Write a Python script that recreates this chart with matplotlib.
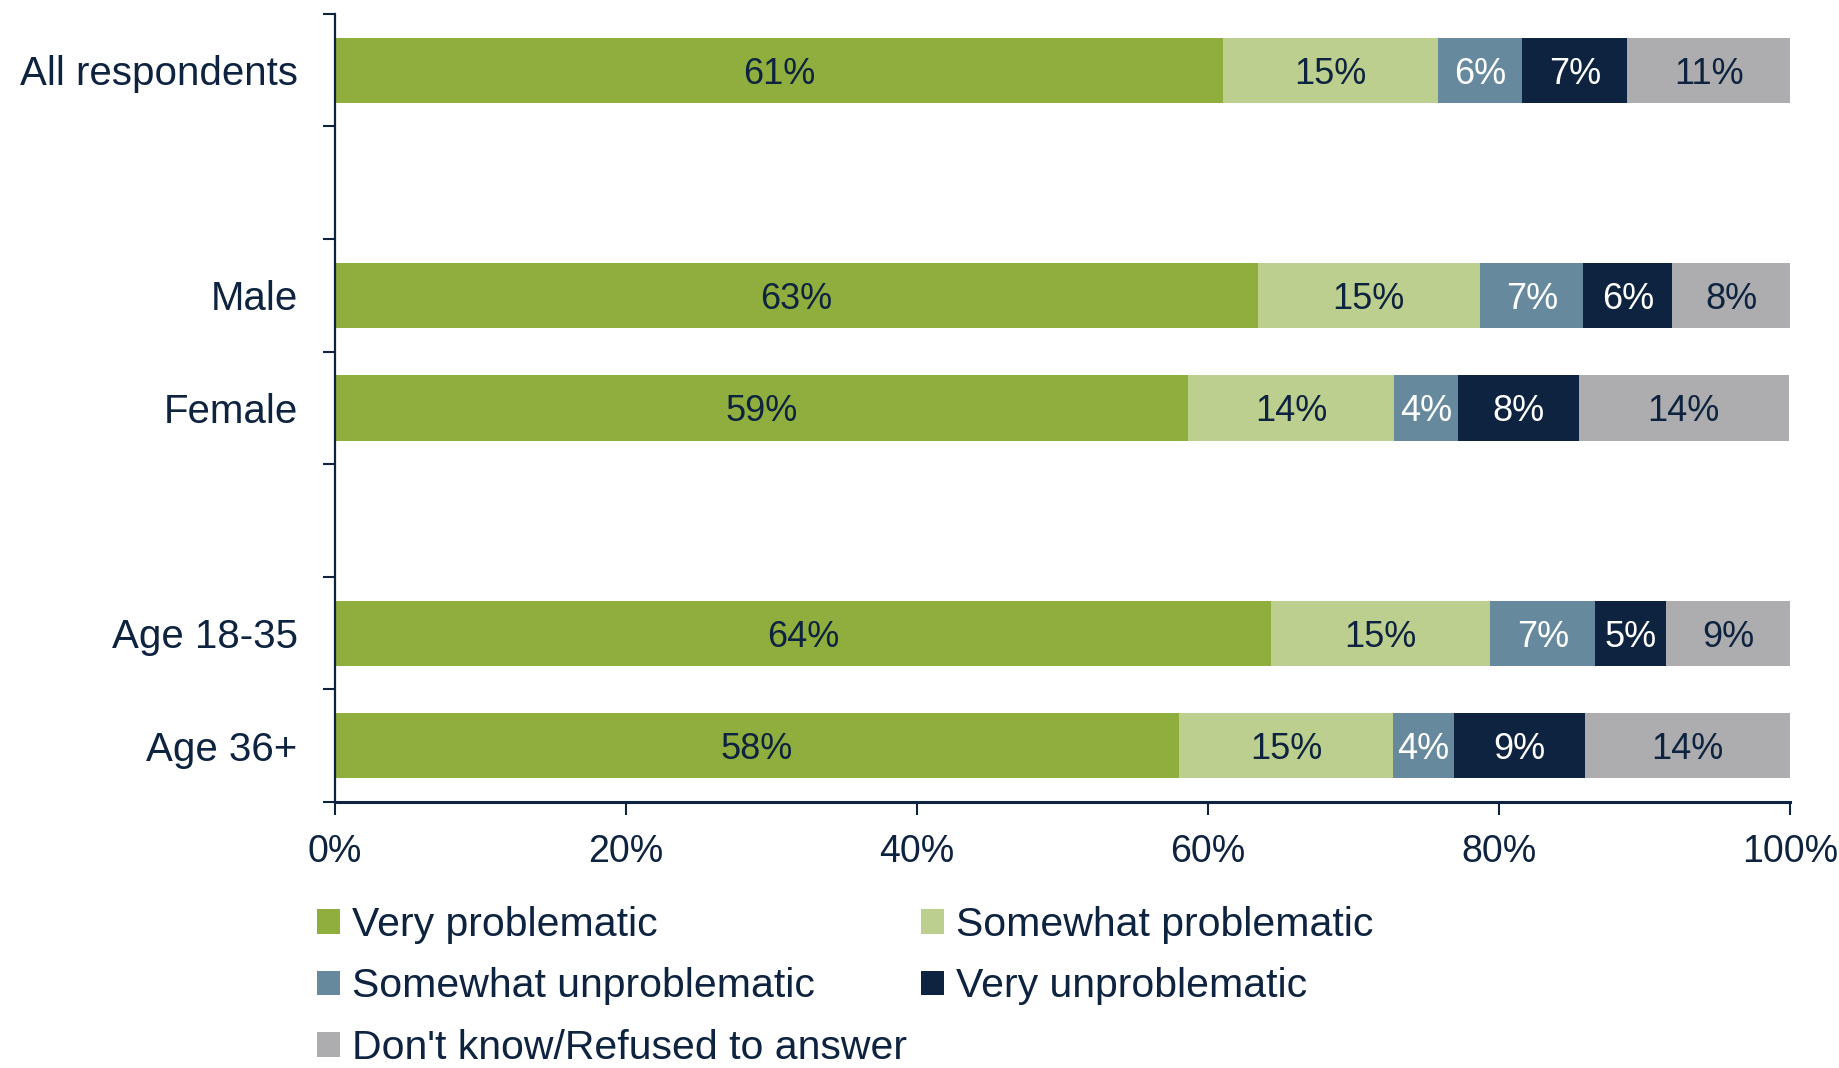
import numpy as np
import matplotlib
matplotlib.use("Agg")
import matplotlib.pyplot as plt
from matplotlib.patches import Patch

plt.rcParams['font.family'] = ['Liberation Sans', 'DejaVu Sans']

# categories (None = empty spacer slot)
groups = ["All respondents", None, "Male", "Female", None, "Age 18-35", "Age 36+"]
series = ["Very problematic", "Somewhat problematic", "Somewhat unproblematic",
          "Very unproblematic", "Don't know/Refused to answer"]

# values, per series, for the non-empty groups
very_prob = [61.0, 63.4, 58.6, 64.3, 58.0]
somewhat_prob = [14.8, 15.3, 14.2, 15.1, 14.7]
somewhat_unprob = [5.8, 7.1, 4.4, 7.2, 4.2]
very_unprob = [7.2, 6.1, 8.3, 4.9, 9.0]
dont_know = [11.2, 8.1, 14.4, 8.5, 14.1]

colors = ["#8FAE3E", "#BDCF8E", "#67899E", "#0E233F", "#ADADAF"]
label_colors = ["#0E233F", "#0E233F", "white", "white", "#0E233F"]
navy = "#0E233F"

data = [very_prob, somewhat_prob, somewhat_unprob, very_unprob, dont_know]
ypos = [i for i, g in enumerate(groups) if g is not None]
names = [g for g in groups if g is not None]

fig = plt.figure(figsize=(18.39, 10.68), dpi=100)
ax = fig.add_axes([0.1822, 0.249, 0.9734 - 0.1822, 0.987 - 0.249])

left = np.zeros(len(ypos))
for vals, col, lc in zip(data, colors, label_colors):
    vals = np.array(vals)
    ax.barh(ypos, vals, left=left, height=0.58, color=col, linewidth=0)
    for y, l, v in zip(ypos, left, vals):
        ax.text(l + v / 2, y, f"{int(v + 0.5)}%", ha='center', va='center_baseline',
                color=lc, fontsize=26)
    left += vals

ax.set_xlim(0, 100)
ax.set_ylim(len(groups) - 0.5, -0.5)

ax.set_xticks(np.arange(0, 101, 20))
ax.set_xticklabels([f"{t}%" for t in range(0, 101, 20)])
ax.tick_params(axis='x', direction='out', length=9, width=1.5, color=navy,
               labelsize=27, labelcolor=navy, pad=14)

ax.set_yticks(np.arange(-0.5, len(groups), 1.0))
ax.set_yticklabels([])
ax.tick_params(axis='y', which='major', direction='out', length=9, width=1.5, color=navy)
ax.set_yticks(ypos, minor=True)
ax.set_yticklabels(names, minor=True)
ax.tick_params(axis='y', which='minor', length=0, labelsize=29, labelcolor=navy, pad=27)

for s in ['top', 'right']:
    ax.spines[s].set_visible(False)
ax.spines['left'].set_color(navy)
ax.spines['left'].set_linewidth(1.6)
ax.spines['bottom'].set_color(navy)
ax.spines['bottom'].set_linewidth(2.2)

handles = [Patch(facecolor=c, edgecolor='none') for c in colors]
order = [0, 2, 4, 1, 3]
fig.legend([handles[i] for i in order], [series[i] for i in order],
           ncol=2, loc='upper left', bbox_to_anchor=(0.1724, 0.152),
           frameon=False, fontsize=29.5, labelcolor=navy,
           handlelength=0.55, handleheight=0.55, handletextpad=0.3,
           labelspacing=0.58, columnspacing=0.35, borderpad=0, borderaxespad=0)

fig.savefig("out.png", dpi=100)
